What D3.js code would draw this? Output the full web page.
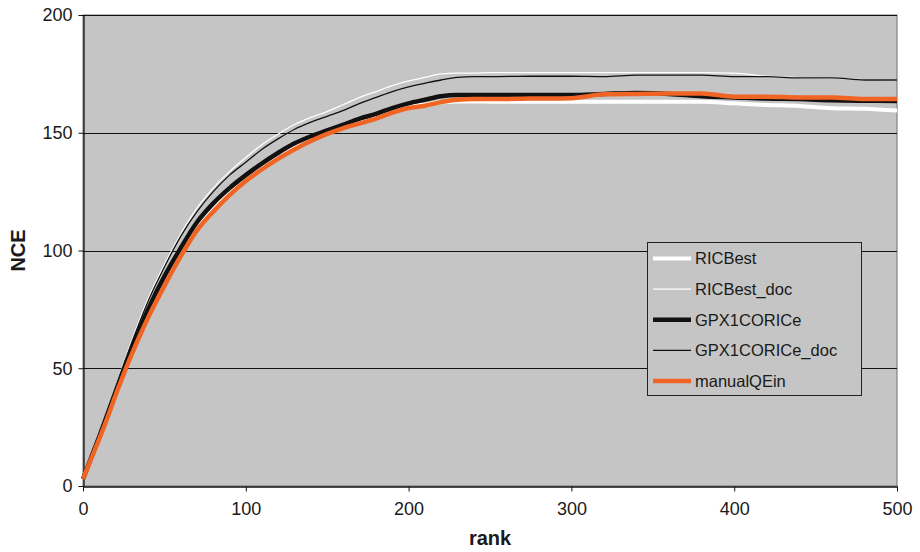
<!DOCTYPE html>
<html>
<head>
<meta charset="utf-8">
<script src="https://cdn.jsdelivr.net/npm/d3@7"></script>
<style>
  body { margin: 0; background: #fff; }
  svg text { font-family: "Liberation Sans", Arial, sans-serif; fill: #1a1a1a; }
</style>
</head>
<body>
<div id="chart"></div>
<script>
const width = 920;
const height = 552;
const margin = {top: 15, right: 23, bottom: 66, left: 83};
const plotBg = '#c4c5c4';

// rank positions the curves are read at
const ranks = [0, 5, 10, 15, 20, 25, 30, 35, 40, 50, 60, 70, 80, 90, 100, 110, 120, 130, 140, 150,
    160, 170, 180, 190, 200, 210, 220, 230, 240, 250, 275, 300, 320, 340, 360, 380, 400, 420, 440,
    460, 480, 500];

const ricBest = [3, 11.5, 20.5, 30, 39.5, 49, 58, 66.5, 74, 87.5, 100, 111, 119, 125, 130.5,
    135.5, 140, 144, 147, 150, 152.5, 155, 157, 159.5, 161, 162, 163, 163.3, 163.3, 163.2, 163.2,
    163.2, 163.2, 163.2, 163.2, 163.2, 162.5, 161.8, 161.4, 160.4, 160.2, 159.4];

const ricBestDoc = [4, 13, 22, 32, 42, 52, 62, 71, 79.5, 94, 107, 118, 126.5, 133.5, 139.5, 145, 149.5,
    153.5, 156.5, 159, 162, 165, 167.5, 170, 172, 173.5, 175, 175.3, 175.3, 175.5, 175.5, 175.5, 175.5,
    175.5, 175.5, 175.5, 175.3, 174, 173.4, 173.2, 172.6, 172.4];

const gpx = [3, 12, 21, 30.5, 40, 49.5, 58.5, 67, 75, 89, 101, 112, 120, 126.5, 132, 137, 141.5, 145.5,
    148.5, 151, 153.5, 156, 158, 160.5, 162.5, 164, 165.5, 166, 166, 166, 166, 166, 166.5, 166.9,
    166.5, 165.5, 165, 164.5, 164.3, 163.8, 163.6, 163.5];

const gpxDoc = [4, 12.5, 21.5, 31.5, 41.5, 51.5, 61, 70, 78.5, 93, 106, 116.5, 125, 132, 137.5, 143,
    147.5, 151.5, 154.5, 157, 159.5, 162.5, 165, 167.5, 169.5, 171, 172.4, 173.5, 173.8, 173.8, 174,
    174, 173.8, 174.5, 174.5, 174.5, 173.8, 173.8, 173.3, 173.3, 172.4, 172.4];

const manualQEin = [3, 11.5, 20, 29, 38.5, 47.5, 56, 64, 71.5, 85, 97.5, 108.5, 116.5, 123.5, 129.5,
    134.5, 139, 143, 146.5, 149.5, 152, 154, 156, 158.5, 160.5, 161.5, 163, 164, 164.3, 164.3, 164.5,
    164.7, 166.3, 166.5, 166.7, 166.7, 165.3, 165.3, 165, 165, 164.3, 164.3];

const seriesNames = ['RICBest', 'RICBest_doc', 'GPX1CORICe', 'GPX1CORICe_doc', 'manualQEin'];
const seriesValues = [ricBest, ricBestDoc, gpx, gpxDoc, manualQEin];
const seriesColors = ['#ffffff', '#ffffff', '#111111', '#111111', '#f06424'];
const seriesWidths = [4, 1.3, 4.5, 1.3, 4.5];

const xTicks = [0, 100, 200, 300, 400, 500];
const yTicks = [0, 50, 100, 150, 200];

const svg = d3.select('#chart')
    .append('svg')
    .attr('width', width)
    .attr('height', height);

const x = d3.scaleLinear().domain([0, 500]).range([margin.left, width - margin.right]);
const y = d3.scaleLinear().domain([0, 200]).range([height - margin.bottom, margin.top]);

// plot background
svg.append('rect')
    .attr('x', x(0))
    .attr('y', y(200))
    .attr('width', x(500) - x(0))
    .attr('height', y(0) - y(200))
    .attr('fill', plotBg)
    .attr('stroke', '#6e6e6e')
    .attr('stroke-width', 1);

// gridlines
svg.append('g')
    .selectAll('line')
    .data(yTicks.filter(d => d > 0))
    .enter()
    .append('line')
    .attr('x1', x(0))
    .attr('x2', x(500))
    .attr('y1', d => Math.round(y(d)) + 0.5)
    .attr('y2', d => Math.round(y(d)) + 0.5)
    .attr('stroke', '#111')
    .attr('stroke-width', 1);

// axes
const xAxis = svg.append('g')
    .attr('transform', `translate(0, ${Math.round(y(0)) + 0.5})`)
    .call(d3.axisBottom(x).tickValues(xTicks).tickSize(5).tickPadding(6).tickSizeOuter(0));

const yAxis = svg.append('g')
    .attr('transform', `translate(${Math.round(x(0)) + 0.5}, 0)`)
    .call(d3.axisLeft(y).tickValues(yTicks).tickSize(5).tickPadding(6).tickSizeOuter(0));

[xAxis, yAxis].forEach(a => {
    a.select('.domain').attr('stroke', '#111').attr('stroke-width', 1.3);
    a.selectAll('.tick line').attr('stroke', '#111');
    a.selectAll('.tick text')
        .attr('font-size', 18)
        .attr('font-family', '"Liberation Sans", Arial, sans-serif')
        .attr('fill', '#1a1a1a');
});
xAxis.selectAll('.tick text').attr('dy', '0.95em');

// lines
const line = d3.line()
    .x((d, i) => x(ranks[i]))
    .y(d => y(d))
    .curve(d3.curveMonotoneX);

svg.append('g')
    .selectAll('path')
    .data(seriesValues)
    .enter()
    .append('path')
    .attr('d', line)
    .attr('fill', 'none')
    .attr('stroke', (d, i) => seriesColors[i])
    .attr('stroke-width', (d, i) => seriesWidths[i])
    .attr('stroke-linejoin', 'round');

// axis titles
svg.append('text')
    .attr('x', x(250))
    .attr('y', 545)
    .attr('text-anchor', 'middle')
    .attr('font-size', 20)
    .attr('font-weight', 'bold')
    .text('rank');

svg.append('text')
    .attr('transform', `translate(25, ${y(100)}) rotate(-90)`)
    .attr('text-anchor', 'middle')
    .attr('font-size', 20)
    .attr('font-weight', 'bold')
    .text('NCE');

// legend
const legend = svg.append('g')
    .attr('transform', 'translate(647, 242)');

legend.append('rect')
    .attr('x', 0.5)
    .attr('y', 0.5)
    .attr('width', 214)
    .attr('height', 153)
    .attr('fill', plotBg)
    .attr('stroke', '#222')
    .attr('stroke-width', 1);

const items = legend.selectAll('.item')
    .data(seriesNames)
    .enter()
    .append('g')
    .attr('transform', (d, i) => `translate(0, ${16.5 + i * 30.6})`);

items.append('line')
    .attr('x1', 6)
    .attr('x2', 44)
    .attr('stroke', (d, i) => seriesColors[i])
    .attr('stroke-width', (d, i) => seriesWidths[i]);

items.append('text')
    .attr('x', 48)
    .attr('dy', '0.36em')
    .attr('font-size', 16.5)
    .text(d => d);
</script>
</body>
</html>
